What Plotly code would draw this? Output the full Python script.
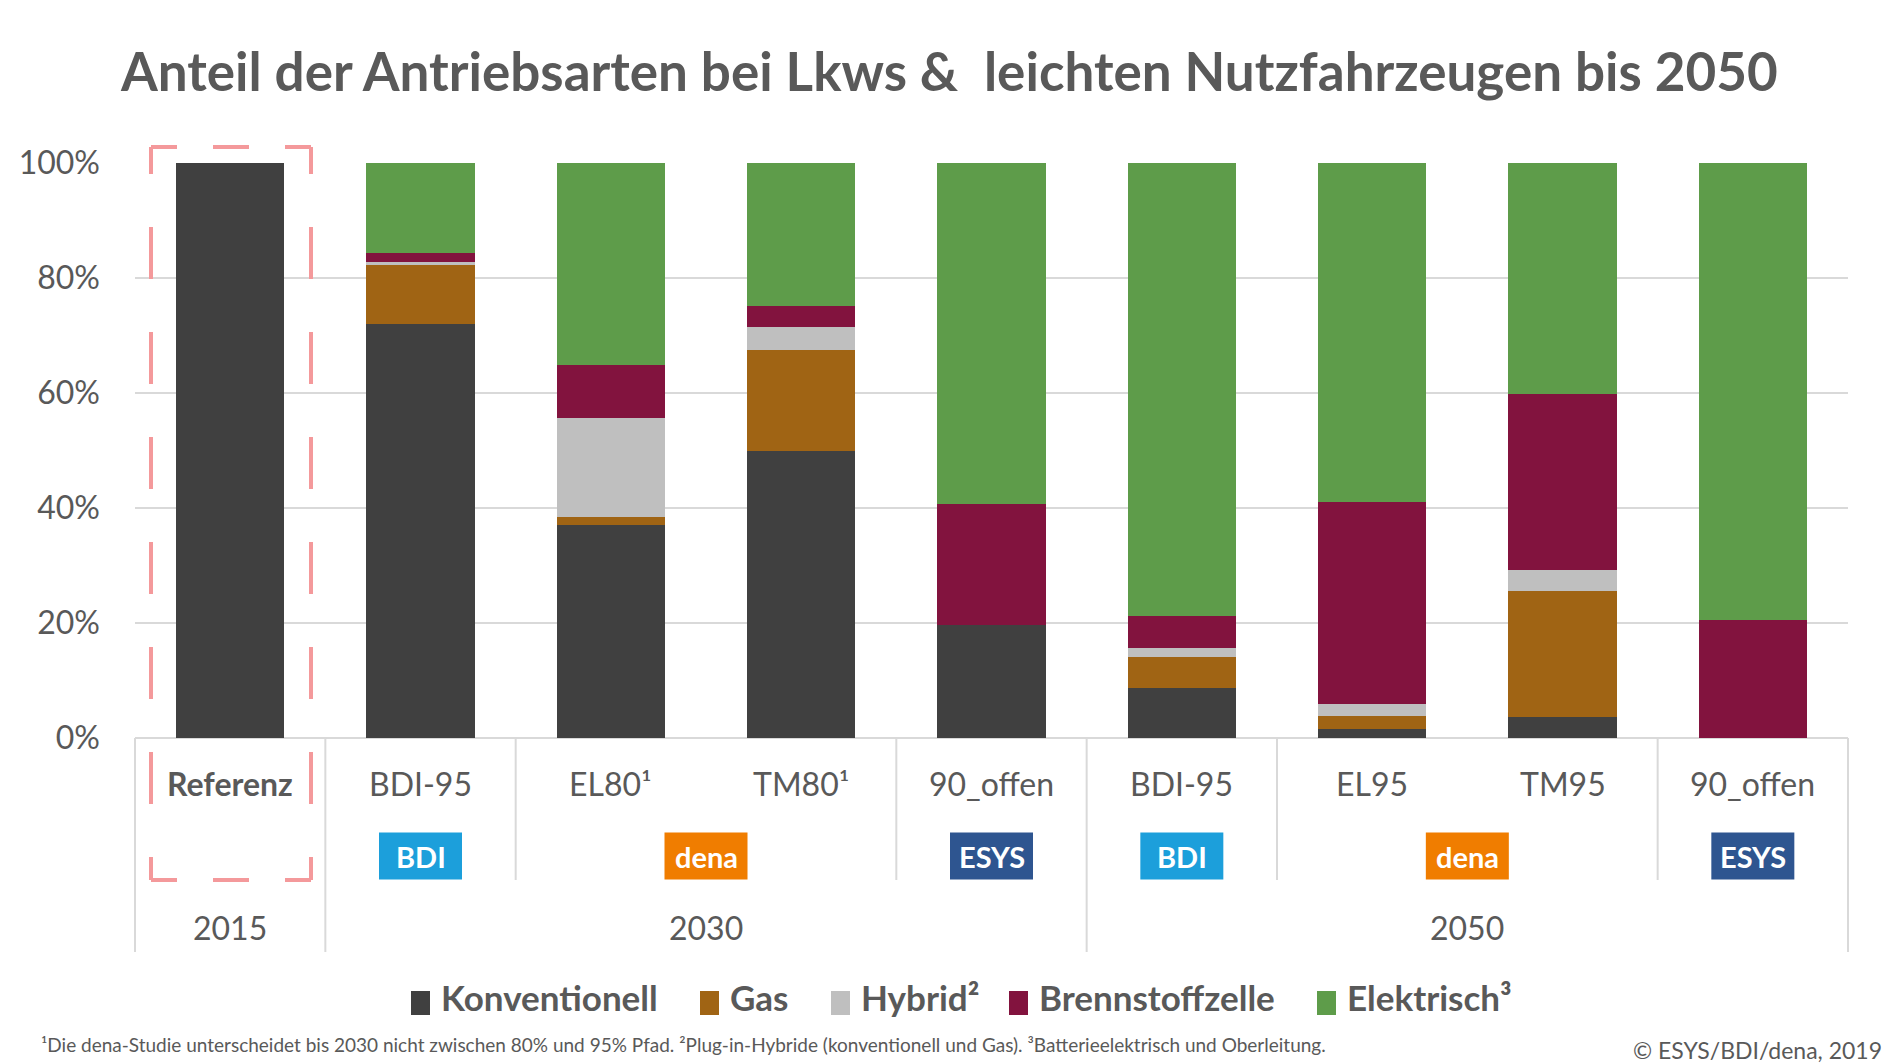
import plotly.graph_objects as go

# ---------------- data ----------------
scenarios = ["Referenz", "BDI-95", "EL80¹", "TM80¹", "90_offen", "BDI-95", "EL95", "TM95", "90_offen"]
series_names = ["Konventionell", "Gas", "Hybrid²", "Brennstoffzelle", "Elektrisch³"]
konventionell = [100.0, 72.0, 37.0, 50.0, 19.6, 8.7, 1.5, 3.7, 0.0]
gas = [0.0, 10.2, 1.5, 17.5, 0.0, 5.4, 2.3, 21.8, 0.0]
hybrid = [0.0, 0.6, 17.1, 3.9, 0.0, 1.6, 2.2, 3.8, 0.0]
brennstoffzelle = [0.0, 1.6, 9.2, 3.7, 21.1, 5.5, 35.1, 30.5, 20.6]
elektrisch = [0.0, 15.6, 35.2, 24.9, 59.3, 78.8, 58.9, 40.2, 79.4]
year_groups = [("2015", 0, 1), ("2030", 1, 5), ("2050", 5, 9)]
badges = [("BDI", 1, 1), ("dena", 2, 3), ("ESYS", 4, 4), ("BDI", 5, 5), ("dena", 6, 7), ("ESYS", 8, 8)]
y_ticks = [0, 20, 40, 60, 80, 100]
y_tick_labels = ["0%", "20%", "40%", "60%", "80%", "100%"]
title = "Anteil der Antriebsarten bei Lkws &  leichten Nutzfahrzeugen bis 2050"
footnote = ("¹Die dena-Studie unterscheidet bis 2030 nicht zwischen 80% und 95% Pfad. "
            "²Plug-in-Hybride (konventionell und Gas). ³Batterieelektrisch und Oberleitung.")
copyright_text = "© ESYS/BDI/dena, 2019"

# ---------------- style ----------------
colors = ["#404040", "#A06414", "#BFBFBF", "#82133E", "#5E9C4A"]
badge_colors = {"BDI": "#1C9FDB", "dena": "#F07D00", "ESYS": "#2E5590"}
text_color = "#595959"
grid_color = "#D9D9D9"
FONT = "Lato"

W, H = 1890, 1063
L, R, T, B = 135, 1848, 163, 738  # plot area in px
n = len(scenarios)
legend_key_px = [411, 700, 831, 1009, 1317]  # left edge of each legend key (layout)


def xp(px):
    return (px - L) / (R - L)


def yp(py):
    return (B - py) / (B - T)


def cat_x(i):  # paper x of category centre
    return (i + 0.5) / n


def bound_x(j):  # paper x of category boundary
    return j / n


fig = go.Figure()
xs = list(range(n))
for name, vals, col in zip(series_names, [konventionell, gas, hybrid, brennstoffzelle, elektrisch], colors):
    fig.add_trace(go.Bar(x=xs, y=vals, name=name, marker=dict(color=col, line=dict(width=0)),
                         hovertemplate=name + ": %{y:.1f}%<extra></extra>"))

shapes = []
annotations = []

# separators under the axis
long_b = [0, 1, 5, 9]
short_b = [2, 4, 6, 8]
for j in long_b + short_b:
    y1 = yp(952) if j in long_b else yp(880)
    shapes.append(dict(type="line", xref="paper", yref="paper", x0=bound_x(j), x1=bound_x(j),
                       y0=0, y1=y1, line=dict(color=grid_color, width=2)))

# dashed highlight rectangle around the reference bar
rc = "#F4999B"
rx0, rx1, ry0, ry1 = 151, 311, 147, 880
hdash = "26px,36px,36px,36px,26px,200px"
vdash = "27px,53px,52px,53px,52px,53px,52px,53px,52px,53px,52px,53px,52px,53px,27px,200px"
shapes += [
    dict(type="line", xref="paper", yref="paper", x0=xp(rx0), x1=xp(rx1), y0=yp(ry0), y1=yp(ry0),
         line=dict(color=rc, width=4, dash=hdash)),
    dict(type="line", xref="paper", yref="paper", x0=xp(rx0), x1=xp(rx1), y0=yp(ry1), y1=yp(ry1),
         line=dict(color=rc, width=4, dash=hdash)),
    dict(type="line", xref="paper", yref="paper", x0=xp(rx0), x1=xp(rx0), y0=yp(ry0), y1=yp(ry1),
         line=dict(color=rc, width=4, dash=vdash)),
    dict(type="line", xref="paper", yref="paper", x0=xp(rx1), x1=xp(rx1), y0=yp(ry0), y1=yp(ry1),
         line=dict(color=rc, width=4, dash=vdash)),
]

# scenario labels
for i, lab in enumerate(scenarios):
    txt = "<b>%s</b>" % lab if i == 0 else lab
    annotations.append(dict(text=txt, xref="paper", yref="paper", x=cat_x(i), y=yp(783),
                            showarrow=False, xanchor="center", yanchor="middle",
                            font=dict(family=FONT, size=32, color=text_color)))

# badges
bw, bh = 83, 47
bcy = 856
for lab, i0, i1 in badges:
    cx_paper = (cat_x(i0) + cat_x(i1)) / 2
    cx_px = L + cx_paper * (R - L)
    shapes.append(dict(type="rect", xref="paper", yref="paper", x0=xp(cx_px - bw / 2), x1=xp(cx_px + bw / 2),
                       y0=yp(bcy - bh / 2), y1=yp(bcy + bh / 2), fillcolor=badge_colors[lab],
                       line=dict(width=0)))
    annotations.append(dict(text="<b>%s</b>" % lab, xref="paper", yref="paper", x=cx_paper, y=yp(bcy),
                            showarrow=False, xanchor="center", yanchor="middle",
                            font=dict(family=FONT, size=29, color="white")))

# year group labels
for lab, j0, j1 in year_groups:
    annotations.append(dict(text=lab, xref="paper", yref="paper", x=(bound_x(j0) + bound_x(j1)) / 2,
                            y=yp(928), showarrow=False, xanchor="center", yanchor="middle",
                            font=dict(family=FONT, size=32, color=text_color)))

# legend (drawn as keys + labels to match the reference's key size)
ky = 1003
for name, col, kx in zip(series_names, colors, legend_key_px):
    shapes.append(dict(type="rect", xref="paper", yref="paper", x0=xp(kx), x1=xp(kx + 19),
                       y0=yp(ky - 12), y1=yp(ky + 12), fillcolor=col, line=dict(width=0)))
    annotations.append(dict(text="<b>%s</b>" % name, xref="paper", yref="paper", x=xp(kx + 28), y=yp(ky - 6),
                            showarrow=False, xanchor="left", yanchor="middle",
                            font=dict(family=FONT, size=35, color=text_color)))

# title, footnote, copyright
annotations.append(dict(text="<b>%s</b>" % title.replace("  ", " \u00a0"), xref="paper", yref="paper",
                        x=xp(949), y=yp(70), showarrow=False, xanchor="center", yanchor="middle",
                        font=dict(family=FONT, size=53, color=text_color)))
annotations.append(dict(text=footnote, xref="paper", yref="paper", x=xp(39), y=yp(1044), showarrow=False,
                        xanchor="left", yanchor="middle", font=dict(family=FONT, size=19, color=text_color)))
annotations.append(dict(text=copyright_text, xref="paper", yref="paper", x=xp(1884), y=yp(1050),
                        showarrow=False, xanchor="right", yanchor="middle",
                        font=dict(family=FONT, size=23, color=text_color)))

fig.update_layout(
    width=W, height=H,
    margin=dict(l=L, r=W - R, t=T, b=H - B, pad=0),
    barmode="stack", bargap=0.43,
    plot_bgcolor="white", paper_bgcolor="white",
    font=dict(family=FONT, color=text_color),
    xaxis=dict(range=[-0.5, n - 0.5], showticklabels=False, showgrid=False, zeroline=False,
               showline=False, ticks="", fixedrange=True),
    yaxis=dict(range=[0, 100], tickmode="array", tickvals=y_ticks, ticktext=y_tick_labels,
               showgrid=True, gridcolor=grid_color,
               gridwidth=2, zeroline=True, zerolinecolor=grid_color, zerolinewidth=2, showline=False,
               tickfont=dict(family=FONT, size=32, color=text_color), ticklabelstandoff=34,
               fixedrange=True),
    shapes=shapes, annotations=annotations,
    showlegend=False,
)

fig.write_html("out.html", config={"displayModeBar": False},
               post_script="document.body.style.margin='0';document.body.style.overflow='hidden';")
